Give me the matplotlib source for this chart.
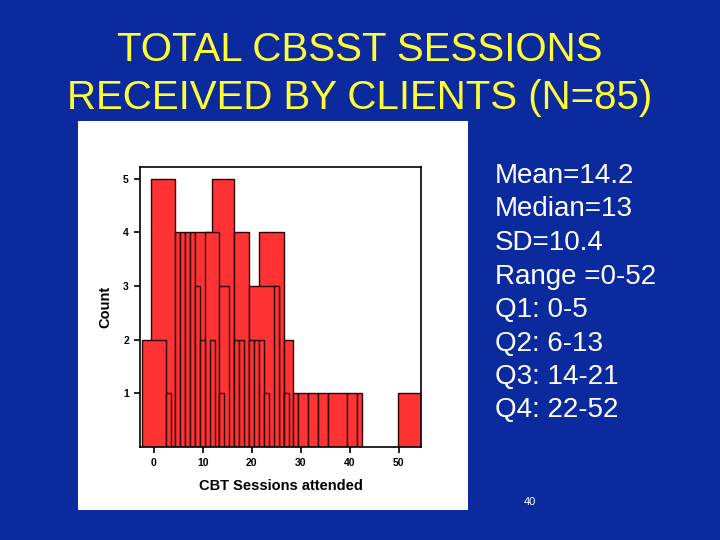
import matplotlib
matplotlib.use("Agg")
import matplotlib.pyplot as plt
from matplotlib.patches import Rectangle

# Histogram bars as drawn by the original software (overlapping bars): left edge, right edge, count
bar_left = [-2.4, -0.5, 2.57, 4.41, 5.43, 6.45, 7.47, 8.49, 8.49, 9.51, 10.53, 11.55, 11.8, 13.39, 13.39,
            16.45, 16.45, 17.47, 19.51, 19.51, 20.53, 21.55, 21.55, 22.57, 24.61, 26.65, 26.65, 28.49,
            29.51, 31.55, 33.59, 35.63, 39.51, 41.55, 49.8]
bar_right = [2.57, 4.41, 3.59, 5.43, 6.45, 7.47, 8.49, 11.55, 9.51, 10.53, 13.39, 12.57, 16.45, 15.43, 14.41,
             19.51, 17.47, 18.49, 25.63, 20.53, 21.55, 22.57, 26.65, 23.59, 25.63, 28.49, 27.67, 29.51,
             31.55, 33.59, 35.63, 39.51, 41.55, 42.57, 54.55]
bar_count = [2, 5, 1, 4, 4, 4, 4, 4, 3, 2, 4, 2, 5, 3, 1,
             4, 2, 2, 3, 2, 2, 2, 4, 1, 3, 2, 1, 1,
             1, 1, 1, 1, 1, 1, 1]

x_ticks = [0, 10, 20, 30, 40, 50]
y_ticks = [1, 2, 3, 4, 5]

title_lines = "TOTAL CBSST SESSIONS\nRECEIVED BY CLIENTS (N=85)"
stats_lines = ["Mean=14.2", "Median=13", "SD=10.4", "Range =0-52",
               "Q1: 0-5", "Q2: 6-13", "Q3: 14-21", "Q4: 22-52"]
page_number = "40"

BG = "#0a2a9e"
fig = plt.figure(figsize=(7.2, 5.4), dpi=100, facecolor=BG)

# white panel behind chart
panel = fig.add_axes([78/720, 1-510/540, 390/720, 389/540])
panel.set_facecolor("white")
panel.set_xticks([]); panel.set_yticks([])
for s in panel.spines.values():
    s.set_visible(False)

ax = fig.add_axes([140/720, 1-447/540, 281/720, 280/540])
ax.set_facecolor("white")
order = sorted(range(len(bar_count)), key=lambda i: -bar_count[i])
for i in order:
    ax.add_patch(Rectangle((bar_left[i], 0), bar_right[i]-bar_left[i], bar_count[i],
                           facecolor="#ff3333", edgecolor="#2a0000", linewidth=1.0))
ax.set_xlim(-2.8, 54.55)
ax.set_ylim(0, 5.22)
ax.set_xticks(x_ticks)
ax.set_yticks(y_ticks)
ax.tick_params(axis="both", direction="out", length=4, width=1.2, labelsize=7.5, pad=4)
for lab in ax.get_xticklabels() + ax.get_yticklabels():
    lab.set_fontweight("bold")
    lab.set_family("Liberation Sans")
for s in ax.spines.values():
    s.set_linewidth(1.2)
ax.set_xlabel("CBT Sessions attended", fontsize=10.5, fontweight="bold", family="Liberation Sans", labelpad=8)
ax.set_ylabel("Count", fontsize=10.5, fontweight="bold", family="Liberation Sans", labelpad=8)

fig.text(0.5, 1-74/540, title_lines, ha="center", va="center", color="#ffff33",
         fontsize=29, family="Liberation Sans", linespacing=1.32)

for k, line in enumerate(stats_lines):
    fig.text(495/720, 1-(176+33.5*k)/540, line, ha="left", va="center", color="white",
             fontsize=20, family="Liberation Sans")

fig.text(530/720, 1-502/540, page_number, ha="center", va="center", color="white",
         fontsize=8, family="Liberation Sans")

fig.savefig("out.png", dpi=100, facecolor=BG)
